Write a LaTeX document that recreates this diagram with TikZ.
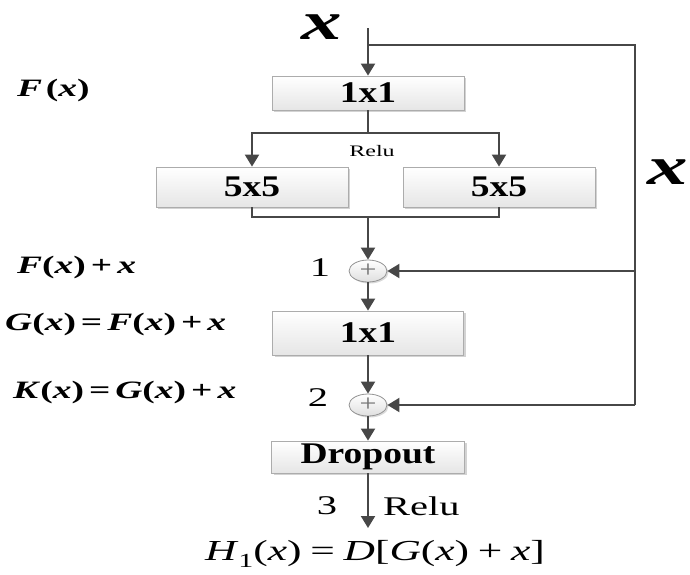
\documentclass[tikz,border=0pt]{standalone}
\usepackage{fontspec}
\setmainfont[FakeStretch=1.25]{Liberation Serif}
\newfontfamily\wf[FakeStretch=1.5]{Liberation Serif}
\usetikzlibrary{arrows.meta,shadows,shapes.geometric}
\definecolor{lc}{HTML}{474747}
\newcommand{\fs}[1]{\fontsize{#1}{#1}\selectfont}
\newcommand{\iv}[1]{\textit{#1}}
\newcommand{\op}[1]{\hspace{0.2em}#1\hspace{0.2em}}
\newcommand{\opw}[1]{\hspace{0.3em}#1\hspace{0.3em}}
\begin{document}
\begin{tikzpicture}[x=1pt,y=-1pt,
  line/.style={draw=lc, line width=2pt},
  arr/.style={line, -{Triangle[length=12pt,width=14pt]}},
  box/.style={draw=gray!65, line width=0.8pt, top color=white, bottom color=gray!20,
    drop shadow={shadow xshift=2pt, shadow yshift=-2pt, opacity=0.35},
    font=\fs{30}\bfseries, inner sep=0pt},
  plus/.style={ellipse, draw=gray!85, line width=0.8pt, top color=white, bottom color=gray!25,
    minimum width=38pt, minimum height=22pt, inner sep=0pt, text=gray!90!black, font=\fs{24},
    drop shadow={shadow xshift=1.5pt, shadow yshift=-1.5pt, opacity=0.3}},
  lbl/.style={font=\wf\fs{25}\bfseries, inner sep=0pt},
  num/.style={font=\wf\fs{27}, inner sep=0pt},
  bigx/.style={font=\wf\fs{54}\bfseries\itshape, inner sep=0pt}
]
\useasboundingbox (0,0) rectangle (690,574);

% blocks
\node[box, minimum width=192pt, minimum height=34pt] (b1) at (368,93) {1x1};
\node[box, minimum width=192pt, minimum height=40pt] (l5) at (252,187) {5x5};
\node[box, minimum width=192pt, minimum height=40pt] (r5) at (499,187) {5x5};
\node[plus] (c1) at (368,271) {+};
\node[box, minimum width=191pt, minimum height=44pt] (b2) at (368,333) {1x1};
\node[plus] (c2) at (368,405) {+};
\node[box, minimum width=193pt, minimum height=32pt] (dp) at (368,457) {Dropout};

% coordinates
\coordinate (in) at (368,28);
\coordinate (br) at (368,45);
\coordinate (rt) at (635,45);
\coordinate (rb) at (635,405);
\coordinate (sp) at (368,133);
\coordinate (mg) at (368,217);
\coordinate (out) at (368,528);

% connectors
\draw[arr] (in) -- (b1.north);
\draw[line] (br) -- (rt) -- (rb);
\draw[arr] (c1 -| rt) -- (c1.east);
\draw[arr] (rb) -- (c2.east);
\draw[line] (b1.south) -- (sp);
\draw[arr] (sp) -| (l5.north);
\draw[arr] (sp) -| (r5.north);
\draw[line] (l5.south) |- (mg);
\draw[line] (r5.south) |- (mg);
\draw[arr] (mg) -- (c1.north);
\draw[arr] (c1.south) -- (b2.north);
\draw[arr] (b2.south) -- (c2.north);
\draw[arr] (c2.south) -- (dp.north);
\draw[arr] (dp.south) -- (out);

% labels
\node[bigx] (xt) at (322,27) {x};
\node[bigx] (xr) at (668,172) {x};
\node[font=\wf\fs{16}, inner sep=0pt] (relu1) at (372,151) {Relu};
\node[num] (n1) at (320,268) {1};
\node[num] (n2) at (318,398) {2};
\node[num] (n3) at (327,506) {3};
\node[num, anchor=west] (relu2) at (383,506) {Relu};

\node[lbl, anchor=west] (fx) at (17,90) {\iv{F}\hspace{0.15em}(\iv{x})};
\node[lbl, anchor=west] (fxx) at (17,267) {\iv{F}(\iv{x})\op{+}\iv{x}};
\node[lbl, anchor=west] (gx) at (5,324) {\iv{G}(\iv{x})\op{=}\iv{F}(\iv{x})\op{+}\iv{x}};
\node[lbl, anchor=west] (kx) at (13,392) {\iv{K}(\iv{x})\op{=}\iv{G}(\iv{x})\op{+}\iv{x}};
\node[font=\wf\fs{29}, inner sep=0pt] (hx) at (375,554)
  {\iv{H}\raisebox{-0.25em}{\fs{20}1}(\iv{x})\opw{=}\iv{D}[\iv{G}(\iv{x})\opw{+}\iv{x}]};
\end{tikzpicture}
\end{document}
